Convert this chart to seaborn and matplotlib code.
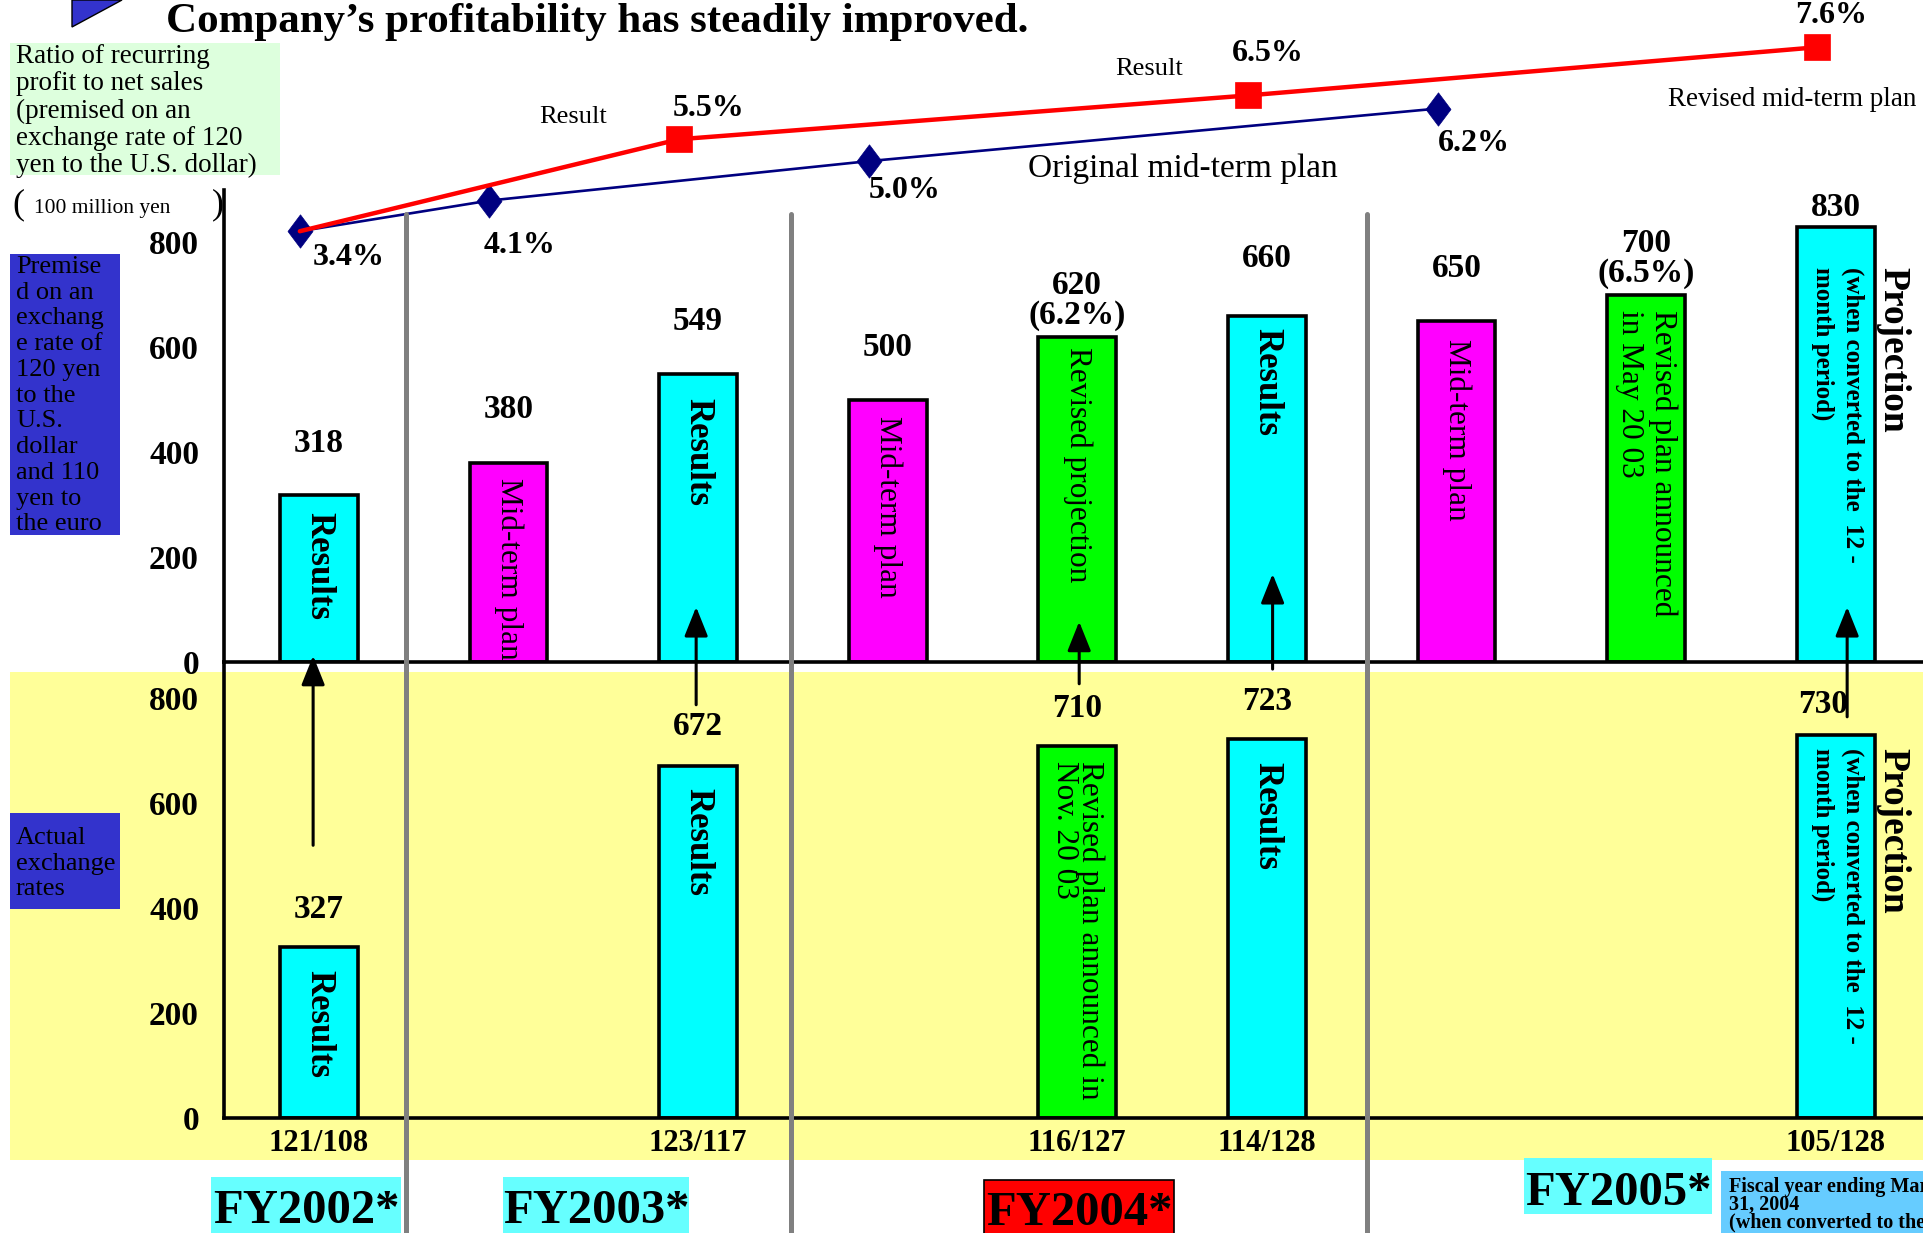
import matplotlib
matplotlib.use("Agg")
import matplotlib.pyplot as plt
import matplotlib.transforms as mtransforms
from matplotlib.lines import Line2D
from matplotlib.patches import Rectangle, Polygon
from matplotlib.path import Path
import numpy as np
import pandas as pd
import seaborn as sns

# ---------------- data ----------------
top_positions = [0, 1, 2, 3, 4, 5, 6, 7, 8]
top_profit = [318, 380, 549, 500, 620, 660, 650, 700, 830]
top_kind = ["Results", "Mid-term plan", "Results", "Mid-term plan", "Revised",
            "Results", "Mid-term plan", "Revised", "Results"]
top_value_text = ["318", "380", "549", "500", "620\n(6.2%)", "660", "650",
                  "700\n(6.5%)", "830"]
top_bar_text = ["Results", "Mid-term plan", "Results", "Mid-term plan",
                "Revised projection", "Results", "Mid-term plan",
                "Revised plan announced\nin May 20 03", ""]

bottom_positions = [0, 2, 4, 5, 8]
bottom_profit = [327, 672, 710, 723, 730]
bottom_kind = ["Results", "Results", "Revised", "Results", "Results"]
bottom_bar_text = ["Results", "Results", "Revised plan announced in\nNov. 20 03",
                   "Results", ""]
exchange_rates = ["121/108", "123/117", "116/127", "114/128", "105/128"]

original_plan_positions = [0, 1, 3, 6]
original_plan_ratio = [3.4, 4.1, 5.0, 6.2]
result_positions = [0, 2, 5, 8]
result_ratio = [3.4, 5.5, 6.5, 7.6]

fiscal_years = ["FY2002*", "FY2003*", "FY2004*", "FY2005*"]

# ---------------- style / layout ----------------
palette = {"Results": "#00ffff", "Mid-term plan": "#ff00ff", "Revised": "#00ff00"}

W, H = 1923, 1233


def fx(px):
    return px / W


def fy(py):
    return 1 - py / H


sns.set_style("white")
plt.rcParams["font.family"] = ["Liberation Serif", "DejaVu Serif"]
for key in ["text.color", "axes.edgecolor", "axes.labelcolor", "xtick.color", "ytick.color"]:
    plt.rcParams[key] = "black"

fig = plt.figure(figsize=(W / 100, H / 100), dpi=100, facecolor="white")

AX_L = 224
ZERO_TOP, AX_TOP_TOP = 662, 190
ZERO_BOT = 1118
ax_top = fig.add_axes([fx(AX_L), fy(ZERO_TOP), 1 - fx(AX_L), (ZERO_TOP - AX_TOP_TOP) / H])
ax_bot = fig.add_axes([fx(AX_L), fy(ZERO_BOT), 1 - fx(AX_L), (ZERO_BOT - ZERO_TOP) / H])
ax_pct = fig.add_axes([fx(AX_L), fy(ZERO_TOP), 1 - fx(AX_L), ZERO_TOP / H])
ax_pct.set_zorder(3)

XLIM = (-0.5, 8.46)
unit = (ZERO_TOP - AX_TOP_TOP) / 900.0  # pixels per 100 million yen

# yellow band behind the actual-rate panel
fig.add_artist(Rectangle((fx(10), fy(1160)), 1 - fx(10), (1160 - 672) / H,
                         transform=fig.transFigure, facecolor="#ffff99",
                         edgecolor="none", zorder=-10))

# ---------------- bars ----------------
df_top = pd.DataFrame({"pos": top_positions, "profit": top_profit, "kind": top_kind})
df_bot = pd.DataFrame({"pos": bottom_positions, "profit": bottom_profit, "kind": bottom_kind})
for ax, df in [(ax_top, df_top), (ax_bot, df_bot)]:
    sns.barplot(data=df, x="pos", y="profit", hue="kind", palette=palette,
                native_scale=True, dodge=False, width=0.41, errorbar=None,
                saturation=1, edgecolor="black", linewidth=2.6, legend=False,
                ax=ax, zorder=2)

ax_top.set_ylim(0, 900)
ax_bot.set_ylim(0, (ZERO_BOT - ZERO_TOP) / unit)
yt = [0, 200, 400, 600, 800]
for ax in (ax_top, ax_bot):
    ax.set_facecolor("none")
    ax.set_xlim(*XLIM)
    ax.set_xlabel("")
    ax.set_ylabel("")
    ax.set_yticks(yt, labels=[str(t) for t in yt], fontsize=24, fontweight="bold")
    ax.tick_params(axis="y", direction="in", length=10, width=2.6, pad=18)
    for s in ("top", "right"):
        ax.spines[s].set_visible(False)
    for s in ("left", "bottom"):
        ax.spines[s].set_linewidth(2.6)
        ax.spines[s].set_color("black")
ax_top.set_xticks([])
ax_bot.set_xticks(bottom_positions, labels=exchange_rates, fontsize=22, fontweight="bold")
ax_bot.tick_params(axis="x", length=0, pad=8)

# value labels
top_gap = [37, 38, 38, 38, 26, 41, 38, 26, 14]
for p, v, t, g in zip(top_positions, top_profit, top_value_text, top_gap):
    ax_top.annotate(t, (p, v), xytext=(0, g), textcoords="offset points",
                    ha="center", va="center", fontsize=24, fontweight="bold",
                    linespacing=0.95)
bot_gap = [27, 28, 27, 27, 22]
bot_dx = [0, 0, 0, 0, -9]
for p, v, g, d in zip(bottom_positions, bottom_profit, bot_gap, bot_dx):
    ax_bot.annotate(str(v), (p, v), xytext=(d, g), textcoords="offset points",
                    ha="center", va="center", fontsize=24, fontweight="bold")

# text written inside the bars
def bar_caption(ax, p, v, txt, gap, ls):
    if not txt:
        return
    bold = txt == "Results"
    ax.annotate(txt, (p, v), xytext=(0, -gap), textcoords="offset points",
                rotation=270, ha="center", va="top", multialignment="left",
                fontsize=25 if bold else 22.5,
                fontweight="bold" if bold else "normal",
                linespacing=ls, zorder=4)

top_cap_gap = [12, 11, 17, 12, 7, 9, 13, 11, 0]
for p, v, t, g in zip(top_positions, top_profit, top_bar_text, top_cap_gap):
    bar_caption(ax_top, p, v, t, g, 1.15)
bot_cap_gap = [17, 16, 11, 17, 0]
for p, v, t, g in zip(bottom_positions, bottom_profit, bottom_bar_text, bot_cap_gap):
    bar_caption(ax_bot, p, v, t, g, 0.85)

# projection captions on the last bar of each panel
for ax, top_val in [(ax_top, 753), (ax_bot, 706)]:
    ax.text(8.30, top_val, "Projection", rotation=270, ha="center", va="top",
            fontsize=27, fontweight="bold", zorder=4, clip_on=False)
    ax.text(8.01, top_val, "(when converted to the  12 -\nmonth period)",
            rotation=270, ha="center", va="top", multialignment="left",
            fontsize=18, fontweight="bold", linespacing=1.35, zorder=4)

# arrows linking actual-rate bars to the premised-rate bars
arrow_dx = [-0.03, -0.01, 0.01, 0.03, 0.06]
arrow_tail = [520, 788, 828, 856, 765]
arrow_tip = [12, 105, 77, 168, 105]
for p, dx, tail, tip in zip(bottom_positions, arrow_dx, arrow_tail, arrow_tip):
    ax_top.annotate("", xy=(p + dx, tip), xycoords="data",
                    xytext=(p + dx, tail), textcoords=ax_bot.transData,
                    arrowprops=dict(arrowstyle="-|>,head_length=0.4,head_width=0.16",
                                    mutation_scale=45, color="black", lw=2.2,
                                    shrinkA=0, shrinkB=0), zorder=5)

# ---------------- ratio lines ----------------
ax_pct.set_xlim(*XLIM)
ax_pct.set_ylim(-6.435, 8.679)
ax_pct.axis("off")
x_shift = -0.1
diamond = Path([(0, 1), (0.75, 0), (0, -1), (-0.75, 0), (0, 1)],
               [Path.MOVETO, Path.LINETO, Path.LINETO, Path.LINETO, Path.CLOSEPOLY])
sns.lineplot(x=np.array(original_plan_positions) + x_shift, y=original_plan_ratio,
             ax=ax_pct, color="#000080", linewidth=1.9, marker=diamond,
             markersize=24, markeredgecolor="#000080", markerfacecolor="#000080",
             markeredgewidth=0.5)
sns.lineplot(x=np.array(result_positions) + x_shift, y=result_ratio,
             ax=ax_pct, color="#ff0000", linewidth=3.2, marker="s",
             markersize=19, markevery=[1, 2, 3], markeredgecolor="#ff0000",
             markerfacecolor="#ff0000", markeredgewidth=0.5)

plan_off = [(35, -19), (22, -32), (26, -21), (26, -25)]
for p, v, o in zip(original_plan_positions, original_plan_ratio, plan_off):
    ax_pct.annotate(f"{v:.1f}%", (p + x_shift, v), xytext=o, textcoords="offset points",
                    ha="center", va="center", fontsize=23, fontweight="bold")
result_off = [None, (21, 22), (14, 30), (10, 23)]
for p, v, o in zip(result_positions, result_ratio, result_off):
    if o is None:
        continue
    ax_pct.annotate(f"{v:.1f}%", (p + x_shift, v), xytext=o, textcoords="offset points",
                    ha="center", va="center", fontsize=23, fontweight="bold")

fig.text(fx(573), fy(117), "Result", ha="center", va="center", fontsize=19)
fig.text(fx(1149), fy(69), "Result", ha="center", va="center", fontsize=19)
fig.text(fx(1183), fy(168), "Original mid-term plan", ha="center", va="center", fontsize=24)
fig.text(fx(1792), fy(100), "Revised mid-term plan", ha="center", va="center", fontsize=19.5)

# ---------------- fiscal-year separators ----------------
sep_tr = mtransforms.blended_transform_factory(ax_top.transData, fig.transFigure)
for xs in [0.46, 2.49, 5.53]:
    fig.add_artist(Line2D([xs, xs], [fy(214), 0], transform=sep_tr,
                          color="#808080", linewidth=3.6, zorder=6))

# ---------------- title and side notes ----------------
fig.add_artist(Polygon([(fx(72), fy(0)), (fx(122), fy(0)), (fx(72), fy(27))],
                       closed=True, transform=fig.transFigure,
                       facecolor="#3333cc", edgecolor="black", linewidth=1))
fig.text(fx(166), fy(22), "Company\u2019s profitability has steadily improved.",
         ha="left", va="center", fontsize=31, fontweight="bold")

fig.add_artist(Rectangle((fx(10), fy(175)), fx(270), (175 - 43) / H,
                         transform=fig.transFigure, facecolor="#ddffdd", edgecolor="none"))
fig.text(fx(16), fy(44),
         "Ratio of recurring\nprofit to net sales\n(premised on an\nexchange rate of 120\nyen to the U.S. dollar)",
         ha="left", va="top", fontsize=19.5, linespacing=1.12)

fig.text(fx(12), fy(205), "(", ha="left", va="center", fontsize=26)
fig.text(fx(34), fy(208), "100 million yen", ha="left", va="center", fontsize=15.5)
fig.text(fx(212), fy(205), ")", ha="left", va="center", fontsize=26)

fig.add_artist(Rectangle((fx(10), fy(535)), fx(110), (535 - 254) / H,
                         transform=fig.transFigure, facecolor="#3333cc", edgecolor="none"))
fig.text(fx(16), fy(256),
         "Premise\nd on an\nexchang\ne rate of\n120 yen\nto the\nU.S.\ndollar\nand 110\nyen to\nthe euro",
         ha="left", va="top", fontsize=19, linespacing=1.22)

fig.add_artist(Rectangle((fx(10), fy(909)), fx(110), (909 - 813) / H,
                         transform=fig.transFigure, facecolor="#3333cc", edgecolor="none"))
fig.text(fx(16), fy(827), "Actual\nexchange\nrates", ha="left", va="top",
         fontsize=19, linespacing=1.22)

# ---------------- fiscal year tags ----------------
fy_boxes = [(211, 401, 1177, 1240, "#66ffff", "none"),
            (503, 689, 1177, 1240, "#66ffff", "none"),
            (984, 1174, 1180, 1240, "#ff0000", "black"),
            (1524, 1712, 1158, 1214, "#66ffff", "none")]
fy_base = [1223, 1223, 1225, 1205]
for (x0, x1, y0, y1, fc, ec), label, base in zip(fy_boxes, fiscal_years, fy_base):
    fig.add_artist(Rectangle((fx(x0), fy(y1)), fx(x1 - x0), (y1 - y0) / H,
                             transform=fig.transFigure, facecolor=fc,
                             edgecolor=ec, linewidth=1.2))
    fig.text(fx((x0 + x1) / 2), fy(base), label, ha="center", va="baseline",
             fontsize=35, fontweight="bold", zorder=3)

fig.add_artist(Rectangle((fx(1721), fy(1240)), fx(W - 1721), (1240 - 1171) / H,
                         transform=fig.transFigure, facecolor="#66ccff", edgecolor="none"))
for txt, base in [("Fiscal year ending March", 1192), ("31, 2004", 1210),
                  ("(when converted to the 12-month period)", 1228)]:
    fig.text(fx(1729), fy(base), txt, ha="left", va="baseline",
             fontsize=14.5, fontweight="bold", zorder=3)

fig.savefig("out.png", dpi=100, facecolor="white")
